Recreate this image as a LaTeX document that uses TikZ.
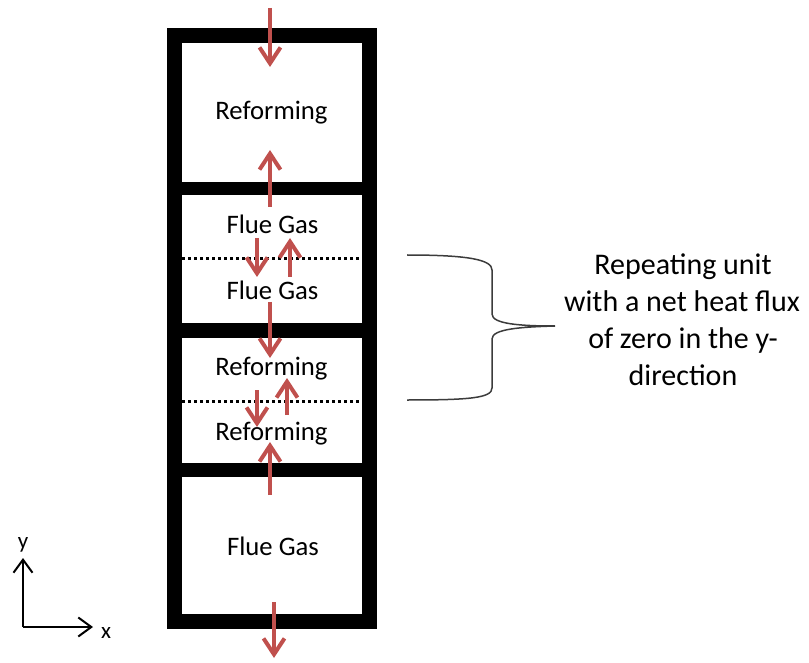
\documentclass[tikz,border=0pt]{standalone}
\usepackage{fontspec}
\setmainfont{Carlito}
\usetikzlibrary{arrows.meta}
\definecolor{heatred}{RGB}{192,80,77}
\definecolor{bracegray}{RGB}{60,60,60}
\begin{document}
\begin{tikzpicture}[x=1pt,y=-1pt,
  flux/.style={draw=heatred,line width=4pt,-{Straight Barb[length=16pt,width=21pt]}},
  axis/.style={draw=black,line width=2pt,-{Straight Barb[length=13pt,width=19pt]}},
  celltext/.style={anchor=base,font=\fontsize{26.7}{30}\selectfont,inner sep=0pt},
  notetext/.style={anchor=base,font=\fontsize{30}{36}\selectfont,inner sep=0pt},
  axislabel/.style={anchor=base,font=\fontsize{23}{26}\selectfont,inner sep=0pt},
  divider/.style={fill=black,draw=none},
  dotline/.style={draw=black,line width=3pt,dash pattern=on 3pt off 3pt}
]
\useasboundingbox (0,0) rectangle (809,663);
% frame
\draw[line width=15pt] (174.5,35.5) rectangle (369.5,621.5);
\fill[divider] (167,182) rectangle (377,195);
\fill[divider] (167,323) rectangle (377,338);
\fill[divider] (167,463) rectangle (377,477);
\coordinate (dl1) at (182,259); \coordinate (dr1) at (362,259);
\coordinate (dl2) at (182,401); \coordinate (dr2) at (362,401);
\draw[dotline] (dl1) -- (dr1);
\draw[dotline] (dl2) -- (dr2);
% labels
\node[celltext] (t1) at (271.5,120) {Reforming};
\node[celltext] (t2) at (272.5,234) {Flue Gas};
\node[celltext] (t3) at (272.5,299) {Flue Gas};
\node[celltext] (t4) at (271.5,375) {Reforming};
\node[celltext] (t5) at (271.5,440) {Reforming};
\node[celltext] (t6) at (273,555) {Flue Gas};
% flux arrows
\coordinate (a1s) at (270,8);   \coordinate (a1e) at (270,67);
\coordinate (a2s) at (270,207); \coordinate (a2e) at (270,150);
\coordinate (a3s) at (257,238); \coordinate (a3e) at (257,277);
\coordinate (a4s) at (290,277); \coordinate (a4e) at (290,238);
\coordinate (a5s) at (270,302); \coordinate (a5e) at (270,358);
\coordinate (a6s) at (257,390); \coordinate (a6e) at (257,427);
\coordinate (a7s) at (287,415); \coordinate (a7e) at (287,378);
\coordinate (a8s) at (270,495); \coordinate (a8e) at (270,442);
\coordinate (a9s) at (274,602); \coordinate (a9e) at (274,658);
\foreach \i in {1,...,9} {\draw[flux] (a\i s) -- (a\i e);}
% brace
\coordinate (b1) at (407,255);
\coordinate (btip) at (555,326);
\coordinate (b2) at (407,400);
\draw[bracegray,line width=1.5pt] (b1) .. controls (470,255) and (492,260) .. (492,270)
  -- (492,314) .. controls (492,324) and (520,326) .. (btip)
  .. controls (520,327) and (492,329) .. (492,339)
  -- (492,388) .. controls (492,398) and (470,400) .. (b2);
% note
\node[notetext] (n1) at (683,275) {Repeating unit};
\node[notetext] (n2) at (682,312) {with a net heat flux};
\node[notetext] (n3) at (683,348) {of zero in the y-};
\node[notetext] (n4) at (683,385) {direction};
% axes
\coordinate (o) at (23,627);
\coordinate (yend) at (23,558);
\coordinate (xend) at (93,627);
\draw[axis] (o) -- (yend);
\draw[axis] (o) -- (xend);
\node[axislabel] (ylab) at (23,548) {y};
\node[axislabel] (xlab) at (106,638) {x};
\end{tikzpicture}
\end{document}
